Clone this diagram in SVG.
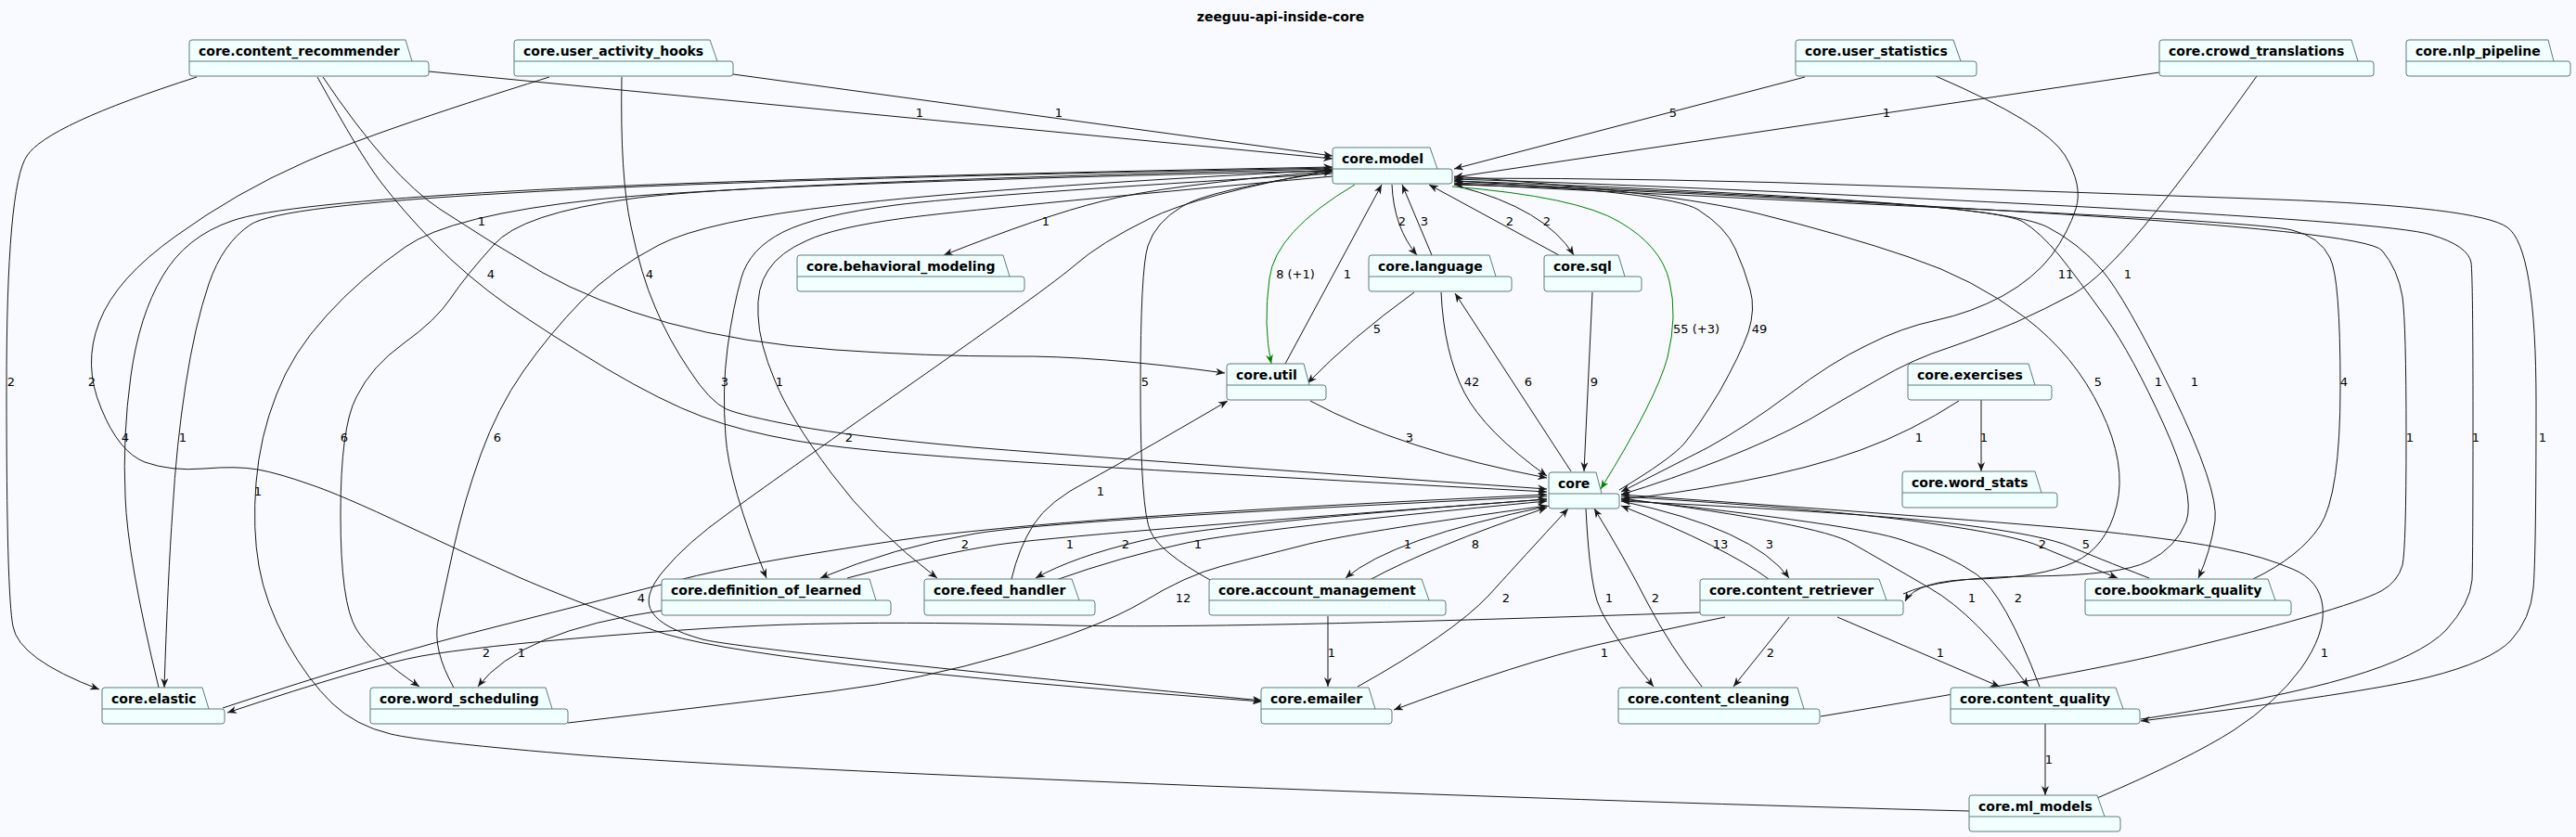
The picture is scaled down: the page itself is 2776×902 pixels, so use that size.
<svg xmlns="http://www.w3.org/2000/svg" width="2776" height="902" viewBox="0 0 2776 902">
<defs>
<style>
.bg{fill:#F8FAFF}
.n path{fill:#F1FFFF;stroke:#5E7B7B;stroke-width:1}
.n text{font-family:"DejaVu Sans",sans-serif;font-weight:bold;font-size:14px;fill:#000}
.e path{fill:none;stroke:#181818;stroke-width:1;marker-end:url(#a)}
.e path.g{stroke:#008000;marker-end:url(#ag)}
.l text{font-family:"DejaVu Sans",sans-serif;font-size:13px;fill:#000;text-anchor:middle}
.t{font-family:"DejaVu Sans",sans-serif;font-weight:bold;font-size:14px;fill:#000;text-anchor:middle}
</style>
<marker id="a" viewBox="0 0 10 8" refX="10" refY="4" markerWidth="10" markerHeight="8" markerUnits="userSpaceOnUse" orient="auto"><path d="M0,0 L10,4 L0,8 L3,4 Z" fill="#181818"/></marker>
<marker id="ag" viewBox="0 0 10 8" refX="10" refY="4" markerWidth="10" markerHeight="8" markerUnits="userSpaceOnUse" orient="auto"><path d="M0,0 L10,4 L0,8 L3,4 Z" fill="#008000"/></marker>
</defs>
<rect class="bg" x="0" y="0" width="2776" height="902"/>
<text class="t" x="1380" y="23">zeeguu-api-inside-core</text>

<g id="edges" class="e">
<path d="M462,77 L1436,171"/>
<path d="M790,80 L1436,168"/>
<path d="M1945,83 L1567,182"/>
<path d="M2327,78 L1567,191"/>
<path d="M348,83 Q420,190 475,226 Q530,262 585,294 Q640,325 720,348 Q800,370 900,377 Q1000,384 1090,384 Q1180,383 1320,402"/>
<path d="M342,83 Q388,167 411,197 Q434,227 468,262 Q502,297 547,329 Q592,360 653,397 Q714,433 757,449 Q800,465 858,475 Q915,485 1058,495 Q1200,505 1667,530"/>
<path d="M670,83 Q668,190 680,244 Q691,297 706,331 Q720,365 743,399 Q765,433 783,441 Q800,448 858,459 Q915,470 1048,482 Q1180,493 1667,527"/>
<path d="M592,83 Q400,143 328,175 Q255,207 190,254 Q125,300 107,347 Q89,393 109,440 Q128,487 156,498 Q184,508 220,505 Q255,502 278,506 Q300,510 334,522 Q367,533 439,567 Q510,600 559,622 Q607,643 704,679 Q800,715 1360,756"/>
<path d="M212,83 Q50,135 29,168 Q7,200 7,420 Q7,640 14,675 Q20,710 107,743"/>
<path d="M1436,184 Q1250,200 1187,217 Q1123,233 1017,275"/>
<path class="g" d="M1460,199 Q1374,250 1368,300 Q1361,350 1370,392"/>
<path d="M1385,392 L1489,199"/>
<path d="M1500,199 Q1502,245 1527,275"/>
<path d="M1543,275 L1511,199"/>
<path d="M1680,275 L1540,199"/>
<path d="M1572,201 Q1665,225 1696,275"/>
<path class="g" d="M1565,201 Q1700,212 1745,239 Q1790,265 1799,303 Q1808,340 1797,385 Q1785,430 1725,527"/>
<path d="M1745,528 Q1800,495 1815,478 Q1830,460 1853,422 Q1875,383 1884,358 Q1892,333 1886,312 Q1880,290 1870,268 Q1860,245 1830,226 Q1800,207 1567,195"/>
<path d="M1524,315 Q1455,365 1409,413"/>
<path d="M1553,315 Q1556,380 1578,423 Q1600,465 1667,513"/>
<path d="M1693,508 L1568,316"/>
<path d="M1716,315 L1707,508"/>
<path d="M1412,432 Q1510,485 1667,515"/>
<path d="M1436,187 Q1050,210 965,221 Q880,232 844,250 Q808,268 799,299 Q790,330 784,375 Q778,420 782,470 Q785,520 826,623"/>
<path d="M1436,190 Q1050,225 975,235 Q900,245 870,259 Q840,272 828,291 Q815,310 817,340 Q818,370 835,410 Q851,450 896,510 Q940,570 1010,623"/>
<path d="M1304,625 Q1250,595 1240,573 Q1229,550 1229,420 Q1229,290 1237,265 Q1245,240 1273,223 Q1300,205 1436,185"/>
<path d="M1436,183 Q1290,210 1238,236 Q1185,262 1158,286 Q1130,310 980,415 Q830,520 785,553 Q740,585 716,614 Q691,643 703,660 Q714,677 757,689 Q800,700 1360,755"/>
<path d="M171,741 Q137,600 135,535 Q132,470 141,405 Q150,340 175,298 Q200,255 250,238 Q300,220 550,206 Q800,192 1436,180"/>
<path d="M1436,181 Q800,193 550,208 Q300,222 270,242 Q240,262 225,306 Q210,350 200,415 Q190,480 186,550 Q181,620 177,741"/>
<path d="M1436,182 Q800,197 681,214 Q561,230 532,264 Q502,297 486,321 Q470,345 435,370 Q400,395 384,428 Q367,460 367,555 Q367,650 384,678 Q400,705 452,740"/>
<path d="M489,741 Q466,700 472,670 Q478,640 489,590 Q500,540 518,490 Q536,440 564,400 Q592,360 626,325 Q660,290 710,264 Q760,238 908,221 Q1055,203 1436,183"/>
<path d="M2122,874 Q1800,866 1300,847 Q800,827 630,814 Q459,800 421,791 Q383,782 358,758 Q332,733 309,692 Q286,650 279,610 Q272,570 276,520 Q280,470 298,425 Q315,380 352,340 Q388,300 437,266 Q485,232 643,215 Q800,198 1436,184"/>
<path d="M1667,535 Q1140,560 1051,575 Q962,590 884,623"/>
<path d="M913,623 Q1010,597 1075,587 Q1140,577 1667,538"/>
<path d="M1667,538 Q1300,565 1229,583 Q1157,600 1116,623"/>
<path d="M1138,625 Q1208,600 1279,585 Q1350,570 1667,540"/>
<path d="M1090,624 Q1098,590 1114,565 Q1130,540 1173,518 Q1215,495 1323,432"/>
<path d="M240,763 Q408,707 536,675 Q663,643 732,625 Q800,607 970,582 Q1140,557 1667,533"/>
<path d="M1832,660 Q1310,678 1151,674 Q991,670 896,672 Q800,673 655,685 Q510,697 454,707 Q398,717 245,768"/>
<path d="M713,658 Q560,680 515,740"/>
<path d="M612,779 Q800,757 896,745 Q991,733 1087,705 Q1183,677 1231,649 Q1278,620 1317,610 Q1355,600 1403,588 Q1450,575 1667,545"/>
<path d="M1463,740 Q1565,683 1604,642 Q1642,600 1690,548"/>
<path d="M1431,664 L1431,740"/>
<path d="M1670,545 Q1500,580 1450,623"/>
<path d="M1476,625 Q1540,590 1667,547"/>
<path d="M1709,548 Q1712,610 1719,640 Q1725,670 1782,740"/>
<path d="M1834,740 Q1800,697 1775,649 Q1750,600 1718,548"/>
<path d="M1859,665 Q1800,677 1721,695 Q1642,713 1502,765"/>
<path d="M1906,624 Q1860,590 1747,545"/>
<path d="M1747,540 Q1890,570 1928,623"/>
<path d="M1928,665 L1868,740"/>
<path d="M1980,665 L2155,740"/>
<path d="M1747,537 Q1960,565 1995,585 Q2030,605 2080,634 Q2130,663 2186,740"/>
<path d="M2198,740 Q2160,640 2130,619 Q2100,598 2050,582 Q2000,565 1747,538"/>
<path d="M2204,780 L2204,857"/>
<path d="M2260,860 Q2360,817 2407,787 Q2453,757 2480,720 Q2506,683 2503,654 Q2500,625 2470,613 Q2440,600 2400,592 Q2360,583 2267,573 Q2173,563 1747,533"/>
<path d="M1747,535 Q1987,550 2080,564 Q2173,577 2199,589 Q2225,600 2282,623"/>
<path d="M2316,623 Q2257,600 2231,589 Q2204,577 2111,565 Q2018,553 1747,540"/>
<path d="M1567,190 Q1800,207 1894,230 Q1987,253 2057,277 Q2127,300 2182,342 Q2236,383 2264,442 Q2292,500 2281,545 Q2270,590 2235,606 Q2200,622 2133,624 Q2065,625 2053,648"/>
<path d="M2051,640 Q2090,622 2188,621 Q2285,620 2315,605 Q2345,590 2356,562 Q2366,533 2332,458 Q2298,383 2269,342 Q2239,300 2219,275 Q2198,250 2180,239 Q2161,227 1981,215 Q1800,203 1567,195"/>
<path d="M1567,197 Q1800,205 1987,216 Q2173,227 2207,245 Q2240,262 2265,291 Q2290,320 2341,424 Q2391,527 2387,561 Q2382,595 2369,623"/>
<path d="M2428,624 Q2478,600 2500,567 Q2522,533 2522,417 Q2522,300 2511,278 Q2500,255 2470,248 Q2440,240 2120,225 Q1800,210 1567,198"/>
<path d="M1962,772 Q2236,727 2329,705 Q2422,683 2485,665 Q2547,647 2566,637 Q2584,627 2589,609 Q2593,590 2593,470 Q2593,350 2589,320 Q2584,290 2567,270 Q2550,250 2175,228 Q1800,205 1567,199"/>
<path d="M2307,775 Q2453,753 2531,730 Q2609,707 2636,679 Q2662,650 2664,625 Q2665,600 2665,450 Q2665,300 2663,283 Q2660,265 2620,253 Q2580,240 2190,220 Q1800,200 1567,193"/>
<path d="M1567,192 Q1800,192 2018,200 Q2236,207 2454,215 Q2671,223 2702,245 Q2733,267 2733,434 Q2733,600 2730,634 Q2727,667 2706,690 Q2684,713 2616,730 Q2547,747 2307,777"/>
<path d="M2086,82 Q2204,133 2225,167 Q2245,200 2237,225 Q2229,250 2211,275 Q2192,300 2158,319 Q2124,337 2087,345 Q2049,353 2012,372 Q1974,390 1928,425 Q1881,460 1841,482 Q1800,503 1747,530"/>
<path d="M2432,82 Q2360,183 2312,242 Q2264,300 2234,317 Q2204,333 2173,347 Q2142,360 2102,374 Q2061,387 2024,409 Q1987,430 1950,452 Q1912,473 1856,495 Q1800,517 1747,533"/>
<path d="M2111,432 Q2060,465 2005,485 Q1950,505 1875,519 Q1800,533 1747,538"/>
<path d="M2135,431 L2135,508"/>
</g>

<g id="labels" class="l">
<text x="991" y="126">1</text><text x="1141" y="126">1</text><text x="1803" y="126">5</text><text x="2033" y="126">1</text>
<text x="519" y="243">1</text><text x="1127" y="243">1</text><text x="1511" y="243">2</text><text x="1535" y="243">3</text><text x="1627" y="243">2</text><text x="1667" y="243">2</text>
<text x="529" y="300">4</text><text x="700" y="300">4</text><text x="1396" y="300">8 (+1)</text><text x="1452" y="300">1</text><text x="2226" y="300">11</text><text x="2293" y="300">1</text>
<text x="1828" y="359">55 (+3)</text><text x="1896" y="359">49</text><text x="1484" y="359">5</text>
<text x="12" y="416">2</text><text x="99" y="416">2</text><text x="781" y="416">3</text><text x="840" y="416">1</text><text x="1234" y="416">5</text><text x="1586" y="416">42</text><text x="1647" y="416">6</text><text x="1718" y="416">9</text><text x="2261" y="416">5</text><text x="2326" y="416">1</text><text x="2365" y="416">1</text><text x="2526" y="416">4</text>
<text x="135" y="476">4</text><text x="197" y="476">1</text><text x="371" y="476">6</text><text x="536" y="476">6</text><text x="915" y="476">2</text><text x="1519" y="476">3</text><text x="2068" y="476">1</text><text x="2138" y="476">1</text><text x="2597" y="476">1</text><text x="2668" y="476">1</text><text x="2740" y="476">1</text>
<text x="278" y="534">1</text><text x="1186" y="534">1</text>
<text x="1040" y="591">2</text><text x="1153" y="591">1</text><text x="1213" y="591">2</text><text x="1291" y="591">1</text><text x="1517" y="591">1</text><text x="1590" y="591">8</text><text x="1854" y="591">13</text><text x="1907" y="591">3</text><text x="2201" y="591">2</text><text x="2248" y="591">5</text>
<text x="691" y="649">4</text><text x="1275" y="649">12</text><text x="1623" y="649">2</text><text x="1734" y="649">1</text><text x="1784" y="649">2</text><text x="2125" y="649">1</text><text x="2175" y="649">2</text>
<text x="524" y="708">2</text><text x="562" y="708">1</text><text x="1435" y="708">1</text><text x="1729" y="708">1</text><text x="1908" y="708">2</text><text x="2091" y="708">1</text><text x="2505" y="708">1</text>
<text x="2208" y="823">1</text>
</g>

<g id="core.content_recommender" class="n"><path d="M204,66 V46 Q204,43 207,43 H437 L444,66 H459 Q462,66 462,69 V79 Q462,82 459,82 H207 Q204,82 204,79 Z M204,66 H444"/><text x="214" y="60">core.content_recommender</text></g>
<g id="core.user_activity_hooks" class="n"><path d="M554,66 V46 Q554,43 557,43 H765 L773,66 H787 Q790,66 790,69 V79 Q790,82 787,82 H557 Q554,82 554,79 Z M554,66 H773"/><text x="564" y="60">core.user_activity_hooks</text></g>
<g id="core.user_statistics" class="n"><path d="M1935,66 V46 Q1935,43 1938,43 H2105 L2113,66 H2127 Q2130,66 2130,69 V79 Q2130,82 2127,82 H1938 Q1935,82 1935,79 Z M1935,66 H2113"/><text x="1945" y="60">core.user_statistics</text></g>
<g id="core.crowd_translations" class="n"><path d="M2327,66 V46 Q2327,43 2330,43 H2534 L2541,66 H2555 Q2558,66 2558,69 V79 Q2558,82 2555,82 H2330 Q2327,82 2327,79 Z M2327,66 H2541"/><text x="2337" y="60">core.crowd_translations</text></g>
<g id="core.nlp_pipeline" class="n"><path d="M2593,66 V46 Q2593,43 2596,43 H2746 L2752,66 H2767 Q2770,66 2770,69 V79 Q2770,82 2767,82 H2596 Q2593,82 2593,79 Z M2593,66 H2752"/><text x="2603" y="60">core.nlp_pipeline</text></g>
<g id="core.model" class="n"><path d="M1436,182 V162 Q1436,159 1439,159 H1541 L1549,182 H1562 Q1565,182 1565,185 V195 Q1565,198 1562,198 H1439 Q1436,198 1436,195 Z M1436,182 H1549"/><text x="1446" y="176">core.model</text></g>
<g id="core.behavioral_modeling" class="n"><path d="M859,298 V278 Q859,275 862,275 H1081 L1088,298 H1101 Q1104,298 1104,301 V311 Q1104,314 1101,314 H862 Q859,314 859,311 Z M859,298 H1088"/><text x="869" y="292">core.behavioral_modeling</text></g>
<g id="core.language" class="n"><path d="M1475,298 V278 Q1475,275 1478,275 H1605 L1612,298 H1626 Q1629,298 1629,301 V311 Q1629,314 1626,314 H1478 Q1475,314 1475,311 Z M1475,298 H1612"/><text x="1485" y="292">core.language</text></g>
<g id="core.sql" class="n"><path d="M1664,298 V278 Q1664,275 1667,275 H1744 L1751,298 H1766 Q1769,298 1769,301 V311 Q1769,314 1766,314 H1667 Q1664,314 1664,311 Z M1664,298 H1751"/><text x="1674" y="292">core.sql</text></g>
<g id="core.util" class="n"><path d="M1322,415 V395 Q1322,392 1325,392 H1405 L1411,415 H1426 Q1429,415 1429,418 V428 Q1429,431 1426,431 H1325 Q1322,431 1322,428 Z M1322,415 H1411"/><text x="1332" y="409">core.util</text></g>
<g id="core.exercises" class="n"><path d="M2056,415 V395 Q2056,392 2059,392 H2186 L2193,415 H2208 Q2211,415 2211,418 V428 Q2211,431 2208,431 H2059 Q2056,431 2056,428 Z M2056,415 H2193"/><text x="2066" y="409">core.exercises</text></g>
<g id="core" class="n"><path d="M1669,532 V512 Q1669,509 1672,509 H1720 L1726,532 H1742 Q1745,532 1745,535 V545 Q1745,548 1742,548 H1672 Q1669,548 1669,545 Z M1669,532 H1726"/><text x="1679" y="526">core</text></g>
<g id="core.word_stats" class="n"><path d="M2050,531 V511 Q2050,508 2053,508 H2193 L2200,531 H2214 Q2217,531 2217,534 V544 Q2217,547 2214,547 H2053 Q2050,547 2050,544 Z M2050,531 H2200"/><text x="2060" y="525">core.word_stats</text></g>
<g id="core.definition_of_learned" class="n"><path d="M713,647 V627 Q713,624 716,624 H937 L944,647 H957 Q960,647 960,650 V660 Q960,663 957,663 H716 Q713,663 713,660 Z M713,647 H944"/><text x="723" y="641">core.definition_of_learned</text></g>
<g id="core.feed_handler" class="n"><path d="M996,647 V627 Q996,624 999,624 H1155 L1163,647 H1177 Q1180,647 1180,650 V660 Q1180,663 1177,663 H999 Q996,663 996,660 Z M996,647 H1163"/><text x="1006" y="641">core.feed_handler</text></g>
<g id="core.account_management" class="n"><path d="M1303,647 V627 Q1303,624 1306,624 H1532 L1540,647 H1555 Q1558,647 1558,650 V660 Q1558,663 1555,663 H1306 Q1303,663 1303,660 Z M1303,647 H1540"/><text x="1313" y="641">core.account_management</text></g>
<g id="core.content_retriever" class="n"><path d="M1832,647 V627 Q1832,624 1835,624 H2025 L2033,647 H2048 Q2051,647 2051,650 V660 Q2051,663 2048,663 H1835 Q1832,663 1832,660 Z M1832,647 H2033"/><text x="1842" y="641">core.content_retriever</text></g>
<g id="core.bookmark_quality" class="n"><path d="M2247,647 V627 Q2247,624 2250,624 H2444 L2452,647 H2466 Q2469,647 2469,650 V660 Q2469,663 2466,663 H2250 Q2247,663 2247,660 Z M2247,647 H2452"/><text x="2257" y="641">core.bookmark_quality</text></g>
<g id="core.elastic" class="n"><path d="M110,764 V744 Q110,741 113,741 H218 L225,764 H239 Q242,764 242,767 V777 Q242,780 239,780 H113 Q110,780 110,777 Z M110,764 H225"/><text x="120" y="758">core.elastic</text></g>
<g id="core.word_scheduling" class="n"><path d="M399,764 V744 Q399,741 402,741 H588 L595,764 H609 Q612,764 612,767 V777 Q612,780 609,780 H402 Q399,780 399,777 Z M399,764 H595"/><text x="409" y="758">core.word_scheduling</text></g>
<g id="core.emailer" class="n"><path d="M1359,764 V744 Q1359,741 1362,741 H1475 L1482,764 H1497 Q1500,764 1500,767 V777 Q1500,780 1497,780 H1362 Q1359,780 1359,777 Z M1359,764 H1482"/><text x="1369" y="758">core.emailer</text></g>
<g id="core.content_cleaning" class="n"><path d="M1744,764 V744 Q1744,741 1747,741 H1937 L1944,764 H1958 Q1961,764 1961,767 V777 Q1961,780 1958,780 H1747 Q1744,780 1744,777 Z M1744,764 H1944"/><text x="1754" y="758">core.content_cleaning</text></g>
<g id="core.content_quality" class="n"><path d="M2102,764 V744 Q2102,741 2105,741 H2280 L2288,764 H2303 Q2306,764 2306,767 V777 Q2306,780 2303,780 H2105 Q2102,780 2102,777 Z M2102,764 H2288"/><text x="2112" y="758">core.content_quality</text></g>
<g id="core.ml_models" class="n"><path d="M2122,880 V860 Q2122,857 2125,857 H2260 L2268,880 H2282 Q2285,880 2285,883 V893 Q2285,896 2282,896 H2125 Q2122,896 2122,893 Z M2122,880 H2268"/><text x="2132" y="874">core.ml_models</text></g>
</svg>
